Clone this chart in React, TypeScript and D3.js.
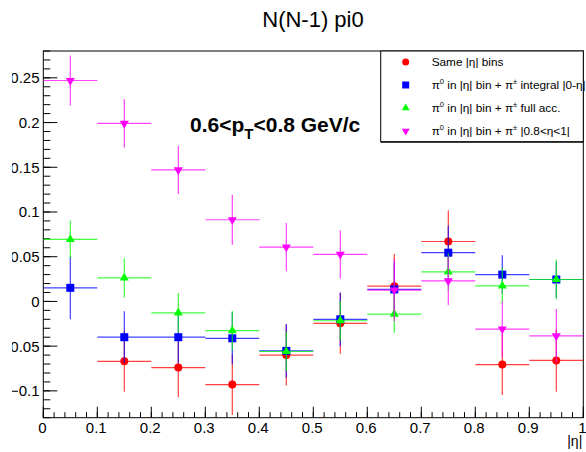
import React from "react";
import * as d3 from "d3";

const etaBins = [0.05, 0.15, 0.25, 0.35, 0.45, 0.55, 0.65, 0.75, 0.85, 0.95];
const binHalfWidth = 0.05;

const sameVals = [null, -0.067, -0.074, -0.093, -0.060, -0.0245, 0.017, 0.067, -0.0706, -0.066];
const sameErr = [null, 0.034, 0.033, 0.034, 0.034, 0.034, 0.036, 0.035, 0.034, 0.035];

const integralVals = [0.0152, -0.040, -0.040, -0.0412, -0.0553, -0.020, 0.0134, 0.0545, 0.030, 0.0245];
const integralErr = [0.035, 0.029, 0.029, 0.029, 0.030, 0.030, 0.030, 0.030, 0.0215, 0.020];

const fullAccVals = [0.0694, 0.0263, -0.0127, -0.0327, -0.056, -0.0216, -0.0141, 0.033, 0.0174, 0.0245];
const fullAccErr = [0.021, 0.022, 0.022, 0.022, 0.022, 0.022, 0.021, 0.021, 0.020, 0.022];

const forwardVals = [0.247, 0.199, 0.147, 0.0913, 0.0608, 0.0527, 0.0126, 0.0229, -0.031, -0.0386];
const forwardErr = [0.028, 0.027, 0.027, 0.028, 0.027, 0.027, 0.035, 0.027, 0.031, 0.030];

const xTicks = [0, 0.1, 0.2, 0.3, 0.4, 0.5, 0.6, 0.7, 0.8, 0.9, 1];
const xTickLabels = ["0", "0.1", "0.2", "0.3", "0.4", "0.5", "0.6", "0.7", "0.8", "0.9", "1"];
const yTicks = [-0.1, -0.05, 0, 0.05, 0.1, 0.15, 0.2, 0.25];
const yTickLabels = ["\u22120.1", "\u22120.05", "0", "0.05", "0.1", "0.15", "0.2", "0.25"];

const W = 586;
const H = 452;
const FL = 43.3, FR = 583.3, FT = 51, FB = 417.7;
const FONT = "'Liberation Sans', Arial, Helvetica, sans-serif";

const x = d3.scaleLinear().domain([0, 1]).range([FL, FR]);
const y = d3.scaleLinear().domain([-0.13, 0.28]).range([FB, FT]);

type Series = {
  name: string;
  vals: (number | null)[];
  errs: (number | null)[];
  color: string;
  marker: "circle" | "square" | "up" | "down";
};

const series: Series[] = [
  { name: "same", vals: sameVals, errs: sameErr, color: "#ff0000", marker: "circle" },
  { name: "integral", vals: integralVals, errs: integralErr, color: "#0000ff", marker: "square" },
  { name: "full", vals: fullAccVals, errs: fullAccErr, color: "#00ff00", marker: "up" },
  { name: "forward", vals: forwardVals, errs: forwardErr, color: "#ff00ff", marker: "down" },
];

function Marker({ type, cx, cy, color, s }: { type: string; cx: number; cy: number; color: string; s: number }) {
  if (type === "circle") return <circle cx={cx} cy={cy} r={s / 2} fill={color} />;
  if (type === "square") return <rect x={cx - s / 2} y={cy - s / 2} width={s} height={s} fill={color} />;
  const sym = d3.symbol().type(d3.symbolTriangle).size(s * s * 0.55)();
  const rot = type === "down" ? 180 : 0;
  return <path d={sym || ""} transform={`translate(${cx},${cy}) rotate(${rot})`} fill={color} />;
}

export default function App() {
  const minorY = d3.range(-0.13, 0.2801, 0.01).map((v) => Math.round(v * 100) / 100);
  const minorX = d3.range(0, 1.0001, 0.02).map((v) => Math.round(v * 100) / 100);
  const legendRows = [
    { m: "circle", c: "#ff0000" },
    { m: "square", c: "#0000ff" },
    { m: "up", c: "#00ff00" },
    { m: "down", c: "#ff00ff" },
  ];
  const legendY = [62, 85, 108, 131];
  return (
    <svg
      width={W}
      height={H}
      style={{ position: "fixed", left: 0, top: 0, background: "#fff" }}
      fontFamily={FONT}
    >
      <defs>
        <clipPath id="ylab">
          <rect x={12} y={0} width={W} height={H} />
        </clipPath>
        <clipPath id="frame">
          <rect x={FL} y={FT} width={FR - FL} height={FB - FT} />
        </clipPath>
      </defs>
      <rect x={0} y={0} width={W} height={H} fill="#fff" />

      {/* title */}
      <text x={313} y={26.5} fontSize={22} textAnchor="middle" fill="#000">N(N-1) pi0</text>

      {/* frame */}
      <rect x={FL} y={FT} width={FR - FL} height={FB - FT} fill="none" stroke="#000" strokeWidth={1} />

      {/* y ticks */}
      {minorY.map((v) => (
        <line key={"my" + v} x1={FL} x2={FL + 7} y1={y(v)} y2={y(v)} stroke="#000" strokeWidth={1} />
      ))}
      {yTicks.map((v) => (
        <line key={"Y" + v} x1={FL} x2={FL + 14} y1={y(v)} y2={y(v)} stroke="#000" strokeWidth={1} />
      ))}
      <g clipPath="url(#ylab)">
        {yTicks.map((v, i) => (
          <text key={"yl" + v} x={39.5} y={y(v) + 5.4} fontSize={15} textAnchor="end" fill="#000">
            {yTickLabels[i]}
          </text>
        ))}
      </g>

      {/* x ticks */}
      {minorX.map((v) => (
        <line key={"mx" + v} x1={x(v)} x2={x(v)} y1={FB} y2={FB - 5.5} stroke="#000" strokeWidth={1} />
      ))}
      {xTicks.map((v) => (
        <line key={"X" + v} x1={x(v)} x2={x(v)} y1={FB} y2={FB - 11} stroke="#000" strokeWidth={1} />
      ))}
      {xTicks.map((v, i) => (
        <text key={"xl" + v} x={x(v) - 1} y={432.5} fontSize={15} textAnchor="middle" fill="#000">
          {xTickLabels[i]}
        </text>
      ))}
      <text x={FR - 1} y={446} fontSize={14} textAnchor="end" fill="#000">|η|</text>

      {/* data */}
      <g clipPath="url(#frame)">
        {series.map((s) => (
          <g key={s.name}>
            {etaBins.map((b, i) => {
              const v = s.vals[i];
              const e = s.errs[i];
              if (v === null || e === null) return null;
              return (
                <g key={i}>
                  <line x1={x(b - binHalfWidth)} x2={x(b + binHalfWidth)} y1={y(v)} y2={y(v)} stroke={s.color} strokeWidth={1.2} strokeOpacity={0.75} />
                  <line x1={x(b)} x2={x(b)} y1={y(v - e)} y2={y(v + e)} stroke={s.color} strokeWidth={1.2} strokeOpacity={0.75} />
                  <Marker type={s.marker} cx={x(b)} cy={y(v)} color={s.color} s={8} />
                </g>
              );
            })}
          </g>
        ))}
      </g>

      {/* pT label */}
      <text x={190} y={131.7} fontSize={21} fontWeight="bold" fill="#000">
        0.6&lt;p<tspan fontSize={15} dy={7}>T</tspan><tspan dy={-7}>&lt;0.8 GeV/c</tspan>
      </text>

      {/* legend */}
      <rect x={380.7} y={FT} width={FR - 380.7} height={90.7} fill="#fff" stroke="#000" strokeWidth={1} />
      <line x1={380.7} x2={FR} y1={FT + 91.2} y2={FT + 91.2} stroke="#000" strokeWidth={1} />
      {legendRows.map((r, i) => (
        <Marker key={"lm" + i} type={r.m} cx={405.7} cy={legendY[i]} color={r.c} s={7} />
      ))}
      <g fontSize={11.8} fill="#000">
        <text x={431.7} y={legendY[0] + 4}>Same |η| bins</text>
        <text x={431.7} y={legendY[1] + 4}>
          π<tspan fontSize={7.5} dy={-5}>0</tspan><tspan dy={5}> in |η| bin + π</tspan><tspan fontSize={7.5} dy={-5}>±</tspan><tspan dy={5}> integral |0-η|</tspan>
        </text>
        <text x={431.7} y={legendY[2] + 4}>
          π<tspan fontSize={7.5} dy={-5}>0</tspan><tspan dy={5}> in |η| bin + π</tspan><tspan fontSize={7.5} dy={-5}>±</tspan><tspan dy={5}> full acc.</tspan>
        </text>
        <text x={431.7} y={legendY[3] + 4}>
          π<tspan fontSize={7.5} dy={-5}>0</tspan><tspan dy={5}> in |η| bin + π</tspan><tspan fontSize={7.5} dy={-5}>±</tspan><tspan dy={5}> |0.8&lt;η&lt;1|</tspan>
        </text>
      </g>
    </svg>
  );
}
